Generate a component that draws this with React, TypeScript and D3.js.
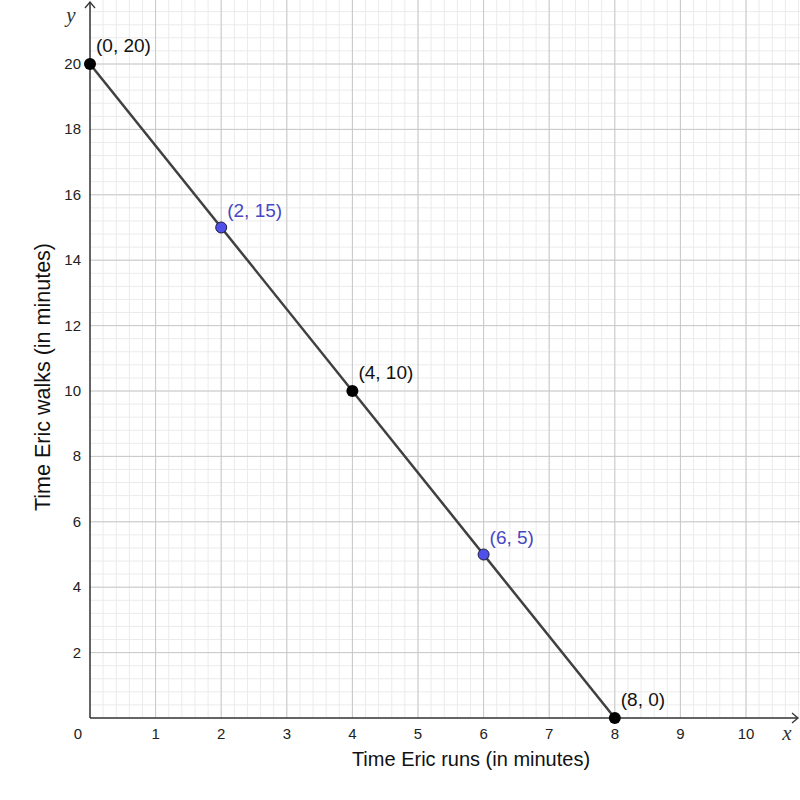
import React from "react";
import * as d3 from "d3";

const xTicks = [1, 2, 3, 4, 5, 6, 7, 8, 9, 10];
const yTicks = [2, 4, 6, 8, 10, 12, 14, 16, 18, 20];
const linePts: [number, number][] = [[0, 20], [8, 0]];
const blackPts = [
  { x: 0, y: 20, label: "(0, 20)" },
  { x: 4, y: 10, label: "(4, 10)" },
  { x: 8, y: 0, label: "(8, 0)" },
];
const bluePts = [
  { x: 2, y: 15, label: "(2, 15)" },
  { x: 6, y: 5, label: "(6, 5)" },
];

export default function App() {
  const W = 800, H = 800;
  const x0 = 90, y0 = 718;
  const ux = 65.6, uy = 32.7;
  const xMax = (W - x0) / ux;
  const yMax = y0 / uy;
  const x = d3.scaleLinear().domain([0, xMax]).range([x0, W]);
  const y = d3.scaleLinear().domain([0, yMax]).range([y0, 0]);
  const minorX = d3.range(0, xMax, 0.2);
  const minorY = d3.range(0, yMax, 0.4);
  const majorX = d3.range(1, xMax, 1);
  const majorY = d3.range(2, yMax, 2);
  const line = d3.line<[number, number]>().x(d => x(d[0])).y(d => y(d[1]));
  const font = "Arial, 'Liberation Sans', sans-serif";
  return (
    <svg width={W} height={H} style={{ position: "absolute", left: 0, top: 0, background: "#fff" }}>
      <rect width={W} height={H} fill="#fff" />
      {minorX.map((v, i) => (
        <line key={"mx" + i} x1={x(v)} x2={x(v)} y1={0} y2={y0} stroke="#ebebeb" strokeWidth={1} />
      ))}
      {minorY.map((v, i) => (
        <line key={"my" + i} x1={x0} x2={W} y1={y(v)} y2={y(v)} stroke="#ebebeb" strokeWidth={1} />
      ))}
      {majorX.map((v, i) => (
        <line key={"Mx" + i} x1={x(v)} x2={x(v)} y1={0} y2={y0} stroke="#c8c8c8" strokeWidth={1} />
      ))}
      {majorY.map((v, i) => (
        <line key={"My" + i} x1={x0} x2={W} y1={y(v)} y2={y(v)} stroke="#c8c8c8" strokeWidth={1} />
      ))}
      {/* axes */}
      <line x1={x0} x2={W - 2} y1={y0} y2={y0} stroke="#333" strokeWidth={1.5} />
      <path d={`M${W - 8},${y0 - 5} L${W - 2},${y0} L${W - 8},${y0 + 5}`} fill="none" stroke="#333" strokeWidth={1.3} />
      <line x1={x0} x2={x0} y1={y0} y2={2} stroke="#333" strokeWidth={1.5} />
      <path d={`M${x0 - 5},8 L${x0},2 L${x0 + 5},8`} fill="none" stroke="#333" strokeWidth={1.3} />
      {/* tick labels */}
      {xTicks.map(v => (
        <text key={"xt" + v} x={x(v)} y={y0 + 21} textAnchor="middle" fontSize={15} fontFamily={font} fill="#222">{v}</text>
      ))}
      <text x={x0 - 12} y={y0 + 21} textAnchor="middle" fontSize={15} fontFamily={font} fill="#222">0</text>
      {yTicks.map(v => (
        <text key={"yt" + v} x={x0 - 9} y={y(v) + 5} textAnchor="end" fontSize={15} fontFamily={font} fill="#222">{v}</text>
      ))}
      <text x={787} y={740} textAnchor="middle" fontSize={21} fontStyle="italic" fontFamily="'Liberation Serif', 'DejaVu Serif', serif" fill="#333">x</text>
      <text x={71} y={22} textAnchor="middle" fontSize={21} fontStyle="italic" fontFamily="'Liberation Serif', 'DejaVu Serif', serif" fill="#333">y</text>
      {/* axis titles */}
      <text x={471} y={766} textAnchor="middle" fontSize={20} fontFamily={font} fill="#111">Time Eric runs (in minutes)</text>
      <text transform={`translate(50,377) rotate(-90)`} textAnchor="middle" fontSize={21.5} fontFamily={font} fill="#111">Time Eric walks (in minutes)</text>
      {/* line */}
      <path d={line(linePts) || ""} fill="none" stroke="#404040" strokeWidth={2.5} />
      {blackPts.map((p, i) => (
        <g key={"b" + i}>
          <circle cx={x(p.x)} cy={y(p.y)} r={6} fill="#000" />
          <text x={x(p.x) + 6} y={y(p.y) - 12} fontSize={19} fontFamily={font} fill="#111">{p.label}</text>
        </g>
      ))}
      {bluePts.map((p, i) => (
        <g key={"u" + i}>
          <circle cx={x(p.x)} cy={y(p.y)} r={5.5} fill="#5050e8" stroke="#1a1a40" strokeWidth={1} />
          <text x={x(p.x) + 6} y={y(p.y) - 11} fontSize={19} fontFamily={font} fill="#4747c2">{p.label}</text>
        </g>
      ))}
    </svg>
  );
}
